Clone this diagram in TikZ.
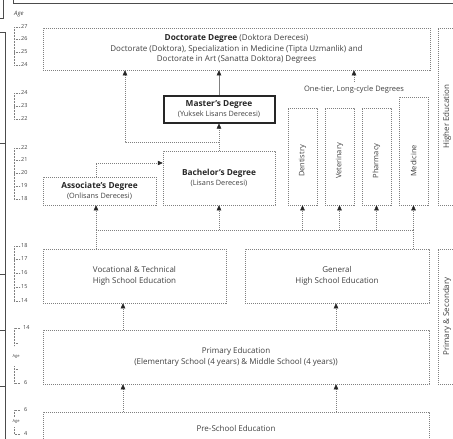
\documentclass[tikz,border=0pt]{standalone}
\usepackage{fontspec}
\setmainfont{Open Sans}
\usetikzlibrary{arrows.meta}
\definecolor{txt}{gray}{0.25}
\definecolor{ln}{gray}{0.5}
\tikzset{
  boxd/.style={draw=ln, dash pattern=on 1.1pt off 0.9pt, line width=0.5pt, inner sep=0pt,
    align=center, text=txt, font=\fontsize{8}{10.5}\selectfont},
  thickbox/.style={draw=black!85, line width=2pt, inner sep=0pt, align=center, text=txt,
    font=\fontsize{8}{11}\selectfont},
  conn/.style={draw=ln, dash pattern=on 1.1pt off 0.9pt, line width=0.5pt},
  arr/.style={conn, -{Triangle[length=5pt,width=4.5pt,color=black!85]}},
  vlabel/.style={rotate=90, text=txt, font=\fontsize{7.5}{9}\selectfont, inner sep=0pt},
  agenum/.style={anchor=west, text=txt, font=\fontsize{5.5}{6}\selectfont, inner sep=0pt},
  agebr/.style={draw=ln, dash pattern=on 0.8pt off 0.7pt, line width=0.45pt},
  frame/.style={draw=black!70, line width=0.6pt}
}
\begin{document}
\begin{tikzpicture}[x=1pt,y=-1pt]
\useasboundingbox (0,0) rectangle (453,439);
\clip (0,0) rectangle (453,439);

% frames at the edges
\draw[frame] (13,0) -- (13,3) -- (453,3);
\draw[frame] (3,0) -- (3,18) -- (0,18);
\draw[frame] (0,32) -- (5,32) -- (5,439);
\foreach \yy in {143,274,330,386} \draw[frame] (0,\yy) -- (5,\yy);
\node[agenum, font=\itshape\fontsize{6}{7}\selectfont] (agehead) at (14,14) {Age};

% age brackets
\foreach \ya/\yb/\lst in {27/65/{27/27,39/26,52/25,65/24},
                         93/119/{93/24,106/23,119/22},
                         148/199/{148/22,160/21,173/20,186/19,199/18},
                         246/301/{246/18,259/17,273/16,287/15,301/14}}{
  \draw[agebr] (14,\ya) -- (14,\yb);
  \foreach \yy/\tt in \lst {
    \draw[agebr] (14,\yy) -- (20,\yy);
    \node[agenum] at (21,\yy) {\tt};
  }
}
% primary ages
\draw[agebr] (20,328) -- (14,328) -- (14,346);
\draw[agebr] (14,343) -- (18,343);
\node[agenum, font=\fontsize{4}{5}\selectfont] at (12.5,357) {Age};
\draw[agebr] (14,366) -- (14,383) -- (20,383);
\draw[agebr] (14,369) -- (18,369);
\node[agenum] at (23,328) {14};
\node[agenum] at (24,383) {6};
% pre-school ages
\draw[agebr] (20,410) -- (14,410) -- (14,417);
\node[agenum, font=\fontsize{4}{5}\selectfont] at (12.5,422) {Age};
\draw[agebr] (14,427) -- (14,434) -- (20,434);
\node[agenum] at (24,410) {6};
\node[agenum] at (24,434) {4};

% boxes
\node[boxd, minimum width=387pt, minimum height=42pt] (doc) at (236.5,49)
  {{\bfseries\fontsize{8.3}{10}\selectfont\color{black!85}Doctorate Degree} (Doktora Derecesi)\\
   Doctorate (Doktora), Specialization in Medicine (Tipta Uzmanlik) and\\
   Doctorate in Art (Sanatta Doktora) Degrees};
\node[thickbox, minimum width=111pt, minimum height=27pt] (mast) at (219,109)
  {{\bfseries\fontsize{8.3}{10}\selectfont\color{black!85}Master's Degree}\\[-1pt]{\fontsize{7.3}{9}\selectfont (Yuksek Lisans Derecesi)}};
\node[boxd, minimum width=112pt, minimum height=54pt] (bach) at (219,178)
  {{\bfseries\fontsize{8.3}{10}\selectfont\color{black!85}Bachelor's Degree}\\{\fontsize{7.3}{9}\selectfont (Lisans Derecesi)}};
\node[boxd, minimum width=113pt, minimum height=28pt] (assoc) at (99.5,191)
  {{\bfseries\fontsize{8.3}{10}\selectfont\color{black!85}Associate's Degree}\\{\fontsize{7.3}{9}\selectfont (Onlisans Derecesi)}};
\node[boxd, minimum width=29pt, minimum height=97pt] (dent) at (302.5,156.5) {};
\node[boxd, minimum width=29pt, minimum height=97pt] (vet) at (339.5,156.5) {};
\node[boxd, minimum width=29pt, minimum height=97pt] (pharm) at (376.5,156.5) {};
\node[boxd, minimum width=29pt, minimum height=108pt] (med) at (413.5,151) {};
\node[vlabel] (dentt) at (302.5,161) {Dentistry};
\node[vlabel] (vett) at (339.5,161) {Veterinary};
\node[vlabel] (pharmt) at (376.5,161) {Pharmacy};
\node[vlabel] (medt) at (413.5,161) {Medicine};
\node[text=txt, font=\fontsize{7.5}{9}\selectfont, inner sep=0pt] (onetier) at (354,90) {One-tier, Long-cycle Degrees};

\node[boxd, minimum width=183pt, minimum height=54pt] (voc) at (134.5,276)
  {Vocational \& Technical\\High School Education};
\node[boxd, minimum width=184pt, minimum height=54pt] (gen) at (337,276)
  {General\\High School Education};
\node[boxd, minimum width=386pt, minimum height=54pt] (prim) at (236,357)
  {Primary Education\\(Elementary School (4 years) \& Middle School (4 years))};
\node[boxd, minimum width=386pt, minimum height=32pt] (pre) at (236,428)
  {Pre-School Education};

% side labels
\node[boxd, minimum width=32pt, minimum height=177pt] (hibox) at (454,116.5) {};
\node[vlabel, font=\fontsize{8}{9}\selectfont] (hitxt) at (447,116.5) {Higher Education};
\node[boxd, minimum width=32pt, minimum height=135pt] (psbox) at (454,316.5) {};
\node[vlabel, font=\fontsize{8}{9}\selectfont] (pstxt) at (447,316.5) {Primary \& Secondary};

% connectors
\coordinate (busL) at (96,230);
\coordinate (busR) at (413.5,230);
\draw[conn] (busL) -- (busR);
\draw[conn] (voc.north -| busL) -- (busL);
\draw[conn] (gen.north -| busR) -- (busR);
\draw[arr] (busL) -- (assoc.south -| busL);
\draw[arr] (bach.south |- busL) -- (bach.south);
\draw[arr] (dent.south |- busL) -- (dent.south);
\draw[arr] (vet.south |- busL) -- (vet.south);
\draw[arr] (pharm.south |- busL) -- (pharm.south);
\draw[arr] (busR) -- (med.south);

\coordinate (asup) at (96,163);
\draw[arr] (assoc.north -| asup) -- (asup) -- (bach.west |- asup);
\draw[arr] (bach.north) -- (mast.south);
\draw[arr] (mast.north) -- (doc.south -| mast.north);
\coordinate (jn) at (219,142);
\coordinate (jl) at (125,142);
\draw[arr] (jn) -- (jl) -- (doc.south -| jl);
\coordinate (ot) at (354,82);
\draw[arr] (ot) -- (doc.south -| ot);

\coordinate (pl) at (123,0);
\coordinate (pr) at (336,0);
\draw[arr] (prim.north -| pl) -- (voc.south -| pl);
\draw[arr] (prim.north -| pr) -- (gen.south -| pr);
\draw[arr] (pre.north -| pl) -- (prim.south -| pl);
\draw[arr] (pre.north -| pr) -- (prim.south -| pr);
\end{tikzpicture}
\end{document}
